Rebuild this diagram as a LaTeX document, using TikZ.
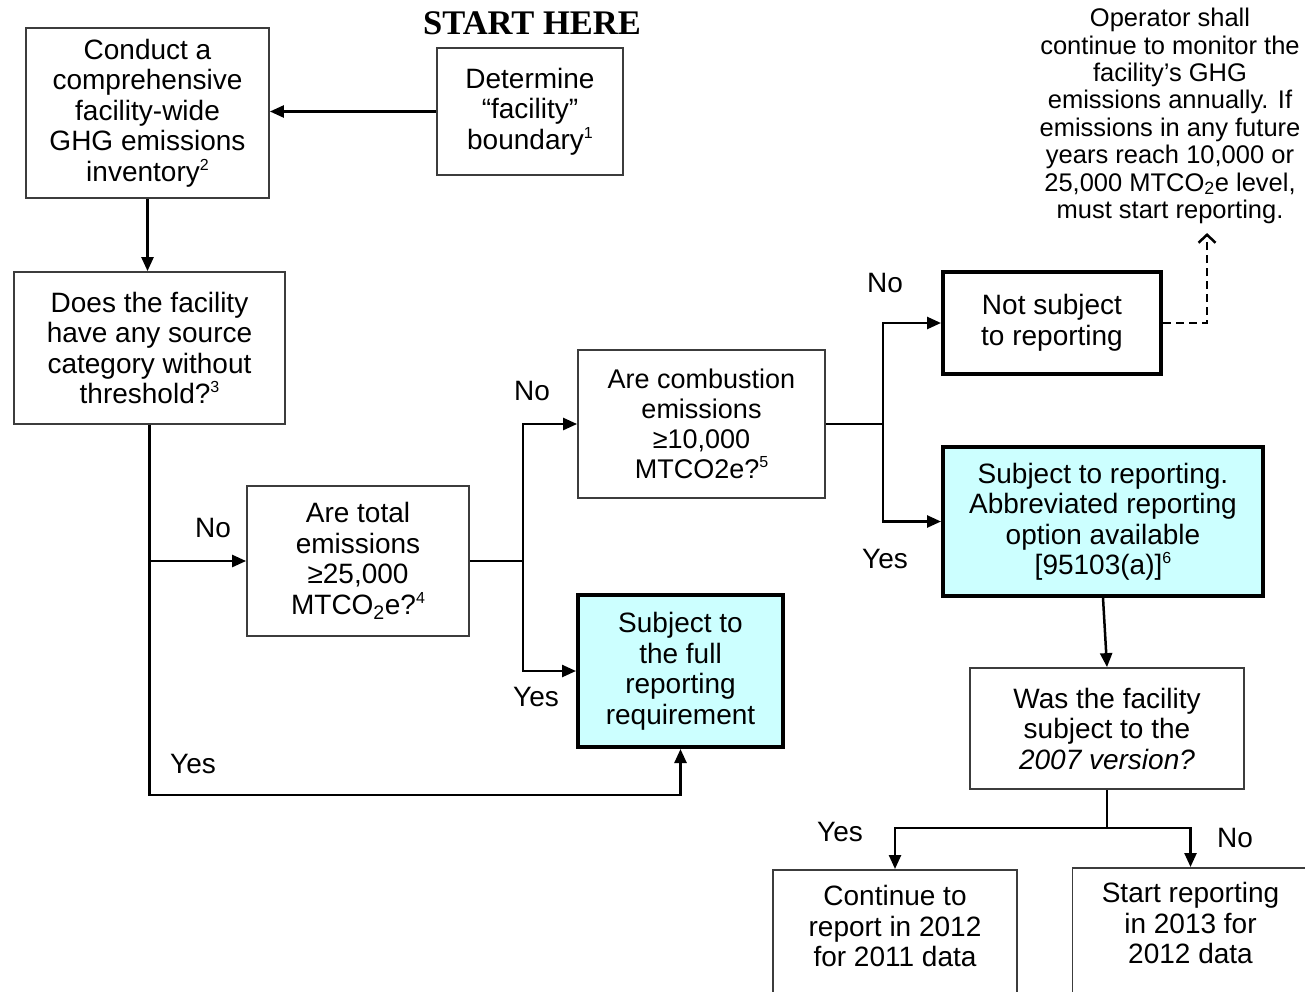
\documentclass[tikz,border=0pt]{standalone}
\usepackage{fontspec}
\setmainfont{Liberation Sans}
\newfontfamily\titlefont{Liberation Serif}
\usetikzlibrary{arrows.meta}
\definecolor{answer}{RGB}{204,255,255}
\definecolor{frame}{RGB}{60,60,60}
\newcommand{\fn}[1]{\raisebox{11pt}{\fontsize{16}{16}\selectfont #1}}

\begin{document}
\begin{tikzpicture}[x=1pt,y=-1pt,->,>={Triangle[length=14pt,width=12pt]},line width=2.5pt,
  every node/.style={font=\fontsize{28}{30.5}\selectfont,align=center}]
\tikzstyle{box}=[draw=frame,line width=1.8pt,rectangle,inner sep=0pt]
\tikzstyle{result}=[draw=black,line width=4pt,rectangle,inner sep=0pt]
\tikzstyle{label}=[inner sep=0pt]
\useasboundingbox (0,0) rectangle (1305,991);

\node[font=\titlefont\bfseries\fontsize{34.5}{34.5}\selectfont] (starthere) at (532,23) {START HERE};
\node[box,minimum width=186,minimum height=127] (boundary) at (530,111.5) {Determine\\“facility”\\boundary\fn{1}};
\node[box,minimum width=243,minimum height=170] (conduct) at (147.5,113) {Conduct a\\comprehensive\\facility-wide\\GHG emissions\\inventory\fn{2}};
\node[box,minimum width=271,minimum height=152] (threshold) at (149.5,348) {Does the facility\\have any source\\category without\\threshold?\fn{3}};
\node[box,minimum width=222,minimum height=150] (total) at (358,561) {Are total\\emissions\\≥25,000\\MTCO\textsubscript{2}e?\fn{4}};
\node[box,minimum width=247,minimum height=148,font=\fontsize{27}{30}\selectfont] (combust) at (701.5,424) {Are combustion\\emissions\\≥10,000\\MTCO2e?\fn{5}};
\node[result,fill=answer,minimum width=205,minimum height=152] (full) at (680.5,671) {Subject to\\the full\\reporting\\requirement};
\node[result,minimum width=218,minimum height=102] (notsub) at (1052,323) {Not subject\\to reporting};
\node[result,fill=answer,minimum width=320,minimum height=149] (abbrev) at (1103,521.5) {Subject to reporting.\\Abbreviated reporting\\option available\\{[}95103(a){]}\fn{6}};
\node[box,minimum width=274,minimum height=121] (version) at (1107,728.5) {Was the facility\\subject to the\\\textit{2007 version?}};
\node[box,anchor=north,minimum width=244,minimum height=170] (cont) at (895,869) {};
\node (conttext) at (895,926) {Continue to\\report in 2012\\for 2011 data};
\node[box,anchor=north,minimum width=236,minimum height=170] (start) at (1190.5,867) {};
\node (starttext) at (1190.5,923) {Start reporting\\in 2013 for\\2012 data};
\node[font=\fontsize{25.5}{27.4}\selectfont,inner sep=0pt] (note) at (1170,116) {Operator shall\\continue to monitor the\\facility’s GHG\\emissions annually. If\\emissions in any future\\years reach 10,000 or\\25,000 MTCO\textsubscript{2}e level,\\must start reporting.};

% branch points
\coordinate (nobranch) at (149.5,561);
\coordinate (yesrun) at (400,795);
\coordinate (split1) at (523,561);
\coordinate (split2) at (883,424);
\coordinate (split3) at (1107,828);

\draw (boundary.west) -- (boundary.west -| conduct.east);
\draw (conduct.south) -- (conduct.south |- threshold.north);
\draw (threshold.south) |- (yesrun) -| (full.south);
\draw (nobranch) -- (total.west);
\draw[-] (total.east) -- (split1);
\draw (split1) |- (combust.west);
\draw (split1) |- (full.west);
\draw[-] (combust.east) -- (split2);
\draw (split2) |- (notsub.west);
\draw (split2) |- (abbrev.west);
\draw (abbrev.south) -- (version.north);
\draw[-] (version.south) -- (split3);
\draw (split3) -| (cont.north);
\draw (split3) -| (start.north);
\draw[dash pattern=on 8pt off 5pt,-{Straight Barb[length=8pt,width=17pt]}] (notsub.east) -| ([xshift=37pt,yshift=-8pt]note.south);

\node[label] (lno1) at (213,528) {No};
\node[label] (lyes1) at (193,764) {Yes};
\node[label] (lno2) at (532,391) {No};
\node[label] (lyes2) at (536,697) {Yes};
\node[label] (lno3) at (885,283) {No};
\node[label] (lyes3) at (885,559) {Yes};
\node[label] (lyes4) at (840,832) {Yes};
\node[label] (lno4) at (1235,838) {No};
\end{tikzpicture}
\end{document}
